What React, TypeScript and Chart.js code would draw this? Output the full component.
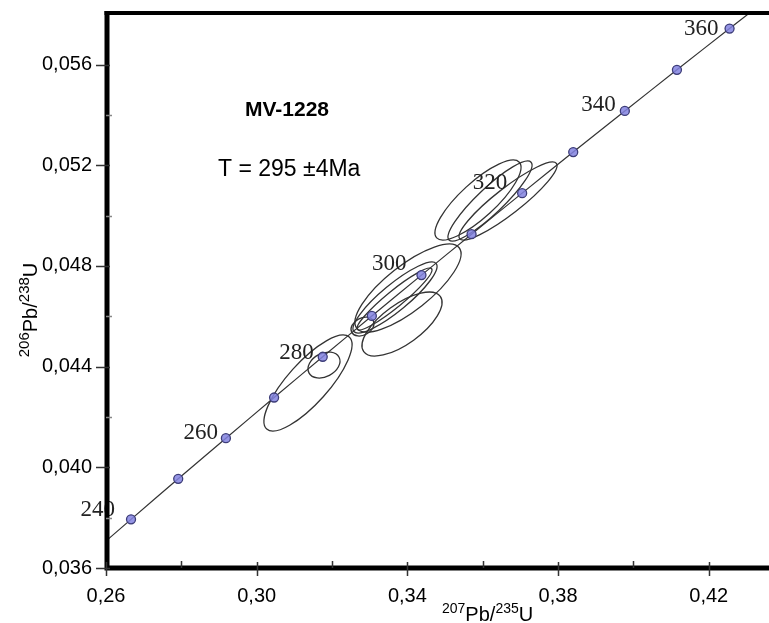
import React, { useEffect, useRef } from "react";
import { Chart, registerables } from "chart.js";

Chart.register(...registerables);

// Concordia (ages in Ma) and ratios
const concordiaAges = [230, 240, 250, 260, 270, 280, 290, 300, 310, 320, 330, 340, 350, 360, 370];
const concordia207 = [0.25422, 0.26664, 0.27917, 0.29183, 0.30462, 0.31753, 0.33057, 0.34374, 0.35704, 0.37047, 0.38403, 0.39773, 0.41156, 0.42553, 0.43964];
const concordia206 = [0.036323, 0.037932, 0.039543, 0.041157, 0.042773, 0.044392, 0.046014, 0.047637, 0.049263, 0.050893, 0.052524, 0.054158, 0.055794, 0.057433, 0.059075];
const markerAges = [240, 250, 260, 270, 280, 290, 300, 310, 320, 330, 340, 350, 360];
const labelAges = [240, 260, 280, 300, 320, 340, 360];

// Error ellipses: centre, half extents, correlation
const ellX = [0.31362, 0.31787, 0.33672, 0.33659, 0.34017, 0.33858, 0.32809, 0.35875, 0.36194, 0.36672];
const ellY = [0.043349, 0.044064, 0.046745, 0.046685, 0.047122, 0.045692, 0.045593, 0.050618, 0.050578, 0.050578];
const ellHX = [0.01168, 0.004247, 0.01115, 0.009955, 0.01407, 0.01062, 0.003053, 0.01141, 0.01115, 0.013008];
const ellHY = [0.001907, 0.000516, 0.00141, 0.001231, 0.001748, 0.001271, 0.000377, 0.001589, 0.001589, 0.001549];
const ellRho = [0.8, 0.3, 0.88, 0.94, 0.78, 0.68, 0.3, 0.82, 0.9, 0.91];

// Axes
const xMin = 0.26, xMax = 0.436;
const yMin = 0.036, yMax = 0.05805;
const xMajor = [0.26, 0.3, 0.34, 0.38, 0.42];
const xMinor = [0.28, 0.32, 0.36, 0.4];
const yMajor = [0.036, 0.04, 0.044, 0.048, 0.052, 0.056];
const yMinor = [0.038, 0.042, 0.046, 0.05, 0.054];

const sampleName = "MV-1228";
const ageText = "T = 295 \u00b14Ma";

const SANS = "'Liberation Sans', Arial, sans-serif";
const SERIF = "'Liberation Serif', 'Times New Roman', serif";

function ageIdx(a: number) {
  return concordiaAges.indexOf(a);
}

const labelOffsets: Record<number, [number, number]> = {
  240: [-16, -9], 260: [-8, -5], 280: [-9, -4], 300: [-15, -11],
  320: [-15, -10], 340: [-9, -6], 360: [-11, 0],
};

function drawSupText(ctx: CanvasRenderingContext2D, parts: [string, boolean][], x: number, y: number, mainSize: number, supSize: number) {
  let cx = x;
  for (const [t, sup] of parts) {
    ctx.font = `${sup ? supSize : mainSize}px ${SANS}`;
    ctx.fillText(t, cx, sup ? y - mainSize * 0.4 : y);
    cx += ctx.measureText(t).width;
  }
}
function measureSup(ctx: CanvasRenderingContext2D, parts: [string, boolean][], mainSize: number, supSize: number) {
  let w = 0;
  for (const [t, sup] of parts) {
    ctx.font = `${sup ? supSize : mainSize}px ${SANS}`;
    w += ctx.measureText(t).width;
  }
  return w;
}

const decoPlugin = {
  id: "deco",
  beforeDatasetsDraw(chart: any) {
    const { ctx, chartArea, scales } = chart;
    const xs = scales.x, ys = scales.y;
    ctx.save();
    ctx.beginPath();
    ctx.rect(chartArea.left, chartArea.top, chartArea.right - chartArea.left, chartArea.bottom - chartArea.top);
    ctx.clip();
    ctx.strokeStyle = "#333";
    ctx.lineWidth = 1.3;
    for (let i = 0; i < ellX.length; i++) {
      const cx = xs.getPixelForValue(ellX[i]);
      const cy = ys.getPixelForValue(ellY[i]);
      const kx = Math.abs(xs.getPixelForValue(ellX[i] + ellHX[i]) - cx);
      const ky = Math.abs(ys.getPixelForValue(ellY[i] + ellHY[i]) - cy);
      const vx = kx * kx, vy = ky * ky, cov = ellRho[i] * kx * ky;
      const theta = 0.5 * Math.atan2(2 * cov, vx - vy);
      const m = (vx + vy) / 2;
      const d = Math.sqrt(((vx - vy) / 2) ** 2 + cov * cov);
      const a = Math.sqrt(m + d), b = Math.sqrt(Math.max(m - d, 0.5));
      ctx.beginPath();
      ctx.ellipse(cx, cy, a, b, -theta, 0, Math.PI * 2);
      ctx.stroke();
    }
    ctx.restore();
  },
  afterDatasetsDraw(chart: any) {
    const { ctx, chartArea, scales } = chart;
    const xs = scales.x, ys = scales.y;
    ctx.save();
    // age labels
    ctx.fillStyle = "#222";
    ctx.font = `23px ${SERIF}`;
    ctx.textAlign = "right";
    ctx.textBaseline = "middle";
    for (const a of labelAges) {
      const i = ageIdx(a);
      const px = xs.getPixelForValue(concordia207[i]);
      const py = ys.getPixelForValue(concordia206[i]);
      const [ox, oy] = labelOffsets[a];
      ctx.fillText(String(a), px + ox, py + oy);
    }
    // annotations
    ctx.fillStyle = "#000";
    ctx.textAlign = "center";
    ctx.font = `bold 21px ${SANS}`;
    ctx.fillText(sampleName, 287, 110);
    ctx.textAlign = "left";
    ctx.font = `23px ${SANS}`;
    ctx.fillText(ageText, 218, 170);

    // axes frame
    ctx.strokeStyle = "#000";
    ctx.lineCap = "butt";
    ctx.lineWidth = 5;
    ctx.beginPath();
    ctx.moveTo(chartArea.left + 1, chartArea.top - 2);
    ctx.lineTo(chartArea.left + 1, chartArea.bottom + 2.5);
    ctx.moveTo(chartArea.left - 1.5, chartArea.bottom);
    ctx.lineTo(chartArea.right, chartArea.bottom);
    ctx.stroke();
    ctx.lineWidth = 4;
    ctx.beginPath();
    ctx.moveTo(chartArea.left - 1.5, chartArea.top);
    ctx.lineTo(chartArea.right, chartArea.top);
    ctx.stroke();

    // ticks
    ctx.lineWidth = 1.5;
    ctx.strokeStyle = "#333";
    ctx.beginPath();
    for (const v of xMajor) {
      const p = Math.round(xs.getPixelForValue(v)) + 0.5;
      ctx.moveTo(p, chartArea.bottom - 6);
      ctx.lineTo(p, chartArea.bottom + 8);
    }
    for (const v of xMinor) {
      const p = Math.round(xs.getPixelForValue(v)) + 0.5;
      ctx.moveTo(p, chartArea.bottom - 7);
      ctx.lineTo(p, chartArea.bottom);
    }
    for (const v of yMajor) {
      const p = Math.round(ys.getPixelForValue(v)) + 0.5;
      ctx.moveTo(chartArea.left - 10, p);
      ctx.lineTo(chartArea.left + 4, p);
    }
    ctx.stroke();
    ctx.strokeStyle = "#888";
    ctx.beginPath();
    for (const v of yMinor) {
      const p = Math.round(ys.getPixelForValue(v)) + 0.5;
      ctx.moveTo(chartArea.left, p);
      ctx.lineTo(chartArea.left + 6, p);
    }
    ctx.stroke();

    // axis titles
    ctx.fillStyle = "#000";
    ctx.textAlign = "left";
    ctx.textBaseline = "alphabetic";
    const xParts: [string, boolean][] = [["207", true], ["Pb/", false], ["235", true], ["U", false]];
    drawSupText(ctx, xParts, 442, 621, 20, 14);
    const yParts: [string, boolean][] = [["206", true], ["Pb/", false], ["238", true], ["U", false]];
    const yw = measureSup(ctx, yParts, 20, 15);
    ctx.translate(37, 310);
    ctx.rotate(-Math.PI / 2);
    drawSupText(ctx, yParts, -yw / 2, 0, 20, 15);
    ctx.restore();
  },
};

export default function App() {
  const ref = useRef<HTMLCanvasElement | null>(null);
  useEffect(() => {
    document.body.style.margin = "0";
    const canvas = ref.current!;
    const lineData = concordiaAges.map((_, i) => ({ x: concordia207[i], y: concordia206[i] }));
    const pointData = markerAges.map((a) => {
      const i = ageIdx(a);
      return { x: concordia207[i], y: concordia206[i] };
    });
    const chart = new Chart(canvas, {
      type: "scatter",
      data: {
        datasets: [
          {
            label: "concordia",
            data: lineData,
            showLine: true,
            borderColor: "#333",
            borderWidth: 1.2,
            pointRadius: 0,
            tension: 0.3,
            order: 2,
          },
          {
            label: "ages",
            data: pointData,
            showLine: false,
            pointRadius: 4.5,
            pointBackgroundColor: "rgba(130,130,225,0.85)",
            pointBorderColor: "#3c3c78",
            pointBorderWidth: 1.3,
            order: 1,
          },
        ],
      },
      options: {
        responsive: false,
        animation: false,
        devicePixelRatio: 1,
        layout: { autoPadding: false, padding: { top: 13, right: 0, left: 0, bottom: 0 } },
        plugins: { legend: { display: false }, tooltip: { enabled: false }, title: { display: false } },
        scales: {
          x: {
            type: "linear",
            min: xMin,
            max: xMax,
            grid: { display: false, drawTicks: false },
            border: { display: false },
            afterBuildTicks: (s: any) => { s.ticks = xMajor.map((v) => ({ value: v })); },
            afterFit: (s: any) => { s.height = 55; s.paddingLeft = 0; s.paddingRight = 0; },
            ticks: {
              padding: 16,
              color: "#000",
              font: { family: SANS, size: 20 },
              maxRotation: 0,
              autoSkip: false,
              callback: (v: any) => Number(v).toFixed(2).replace(".", ","),
            },
          },
          y: {
            type: "linear",
            min: yMin,
            max: yMax,
            grid: { display: false, drawTicks: false },
            border: { display: false },
            afterBuildTicks: (s: any) => { s.ticks = yMajor.map((v) => ({ value: v })); },
            afterFit: (s: any) => { s.width = 106; s.paddingTop = 0; s.paddingBottom = 0; },
            ticks: {
              padding: 14,
              color: "#000",
              font: { family: SANS, size: 20 },
              autoSkip: false,
              callback: (v: any) => Number(v).toFixed(3).replace(".", ","),
            },
          },
        },
      },
      plugins: [decoPlugin],
    });
    return () => chart.destroy();
  }, []);
  return (
    <div style={{ position: "fixed", left: 0, top: 0, width: 769, height: 623, background: "#fff" }}>
      <canvas ref={ref} width={769} height={623} style={{ display: "block" }} />
    </div>
  );
}
